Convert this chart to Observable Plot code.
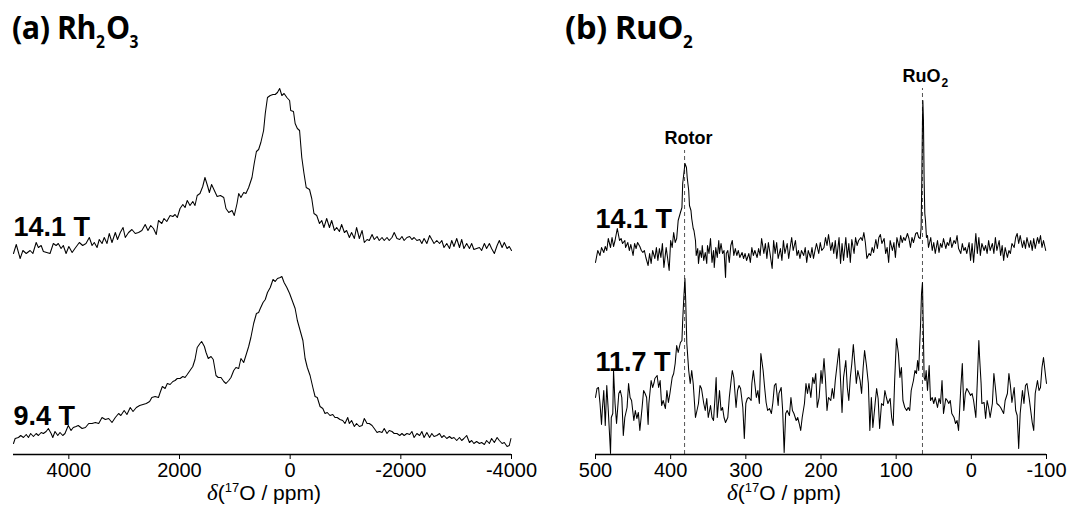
<!DOCTYPE html>
<html><head><meta charset="utf-8">
<script src="https://cdn.jsdelivr.net/npm/d3@7"></script>
<script src="https://cdn.jsdelivr.net/npm/@observablehq/plot@0.6"></script>
<style>
html,body{margin:0;padding:0;background:#fff;}
#wrap{position:relative;width:1070px;height:505px;overflow:hidden;font-family:"Liberation Sans",Arial,sans-serif;color:#000;}
.panel{position:absolute;top:0;}
.title{position:absolute;font-family:"Open Sans",sans-serif;font-weight:700;font-size:33px;line-height:33px;letter-spacing:-0.5px;white-space:nowrap;transform-origin:0 0;}
.title sub{font-size:17px;vertical-align:-9px;line-height:0;letter-spacing:0;margin:0 1px 0 0;}
.xlabel{position:absolute;font-size:21px;line-height:21px;white-space:nowrap;transform:translateX(-50%);}
.xlabel sup{font-size:13px;vertical-align:8px;line-height:0;}
.xlabel .d{font-family:"Liberation Serif",serif;font-style:italic;font-size:23px;}
</style></head>
<body><div id="wrap">
<div class="panel" id="pa" style="left:0;width:540px;"></div>
<div class="panel" id="pb" style="left:540px;width:530px;"></div>
<div class="title" style="left:12px;top:10px;transform:scaleX(0.92);">(a) Rh<sub>2</sub>O<sub>3</sub></div>
<div class="title" style="left:565px;top:10px;">(b) RuO<sub>2</sub></div>
<div class="xlabel" style="left:264px;top:482px;"><span class="d">δ</span>(<sup>17</sup>O / ppm)</div>
<div class="xlabel" style="left:784px;top:482px;"><span class="d">δ</span>(<sup>17</sup>O / ppm)</div>
</div>
<script>
// ---------- (a) Rh2O3 ----------
const rhTicks = [4000, 2000, 0, -2000, -4000];
const rhPpm141 = [5000,4950,4910,4880,4830,4770,4700,4650,4590,4550,
4500,4460,4400,4340,4280,4230,4190,4140,4100,4050,
4000,3940,3890,3810,3750,3690,3630,3580,3540,3490,
3450,3400,3360,3310,3270,3220,3160,3120,3070,3020,
2980,2920,2860,2800,2740,2680,2620,2570,2520,2470,
2420,2380,2320,2280,2230,2170,2120,2080,2040,1990,
1940,1900,1860,1810,1760,1720,1680,1630,1580,1540,
1490,1460,1420,1370,1320,1260,1200,1160,1110,1050,
1010,960,930,890,840,800,750,690,650,610,
570,530,480,450,410,360,310,270,230,190,
150,110,60,10,-10,-60,-90,-130,-170,-210,
-250,-290,-350,-390,-430,-480,-530,-570,-610,-660,
-710,-750,-800,-840,-890,-930,-980,-1020,-1070,-1110,
-1160,-1200,-1250,-1300,-1340,-1390,-1430,-1480,-1520,-1570,
-1610,-1660,-1700,-1750,-1790,-1840,-1880,-1930,-1980,-2020,
-2060,-2110,-2160,-2200,-2240,-2290,-2340,-2380,-2420,-2470,
-2520,-2560,-2600,-2650,-2700,-2740,-2780,-2830,-2880,-2920,
-2960,-3010,-3060,-3100,-3140,-3190,-3240,-3280,-3320,-3370,
-3420,-3460,-3510,-3550,-3600,-3640,-3690,-3740,-3780,-3830,
-3870,-3920,-3960,-4000];
const rh141 = [201,210,202,196,204,201,204,201,212,207,
209,203,202,201,211,209,211,206,209,201,
208,202,206,212,209,211,217,209,212,207,
215,211,217,211,221,212,222,215,222,227,
217,222,225,221,222,224,230,224,229,226,
220,234,231,236,233,239,238,240,237,246,
250,247,254,249,253,249,259,261,268,277,
268,262,270,264,258,259,257,246,242,244,
239,251,261,257,262,261,267,277,291,303,
305,312,324,341,357,359,360,360,362,366,
359,361,357,354,344,343,331,326,324,297,
281,267,265,256,241,239,231,234,227,236,
227,234,224,227,223,230,222,224,217,222,
216,227,216,224,212,215,214,220,215,218,
214,217,214,217,214,217,222,216,215,218,
214,217,218,215,217,214,215,211,216,211,
219,215,211,214,211,214,207,211,206,214,
208,216,207,215,206,211,206,211,205,206,
207,204,211,206,211,206,201,209,214,207,
212,206,208,204];
const rhPpm94 = [5000,4970,4910,4870,4820,4770,4730,4690,4640,4590,
4550,4500,4460,4410,4370,4320,4290,4250,4200,4160,
4110,4070,4010,3960,3920,3870,3830,3760,3700,3640,
3580,3520,3460,3400,3340,3280,3220,3160,3100,3060,
3000,2950,2890,2840,2780,2720,2660,2600,2540,2500,
2440,2380,2350,2310,2260,2220,2170,2120,2080,2040,
1990,1940,1900,1860,1810,1760,1720,1680,1630,1600,
1550,1520,1480,1430,1390,1340,1300,1250,1200,1160,
1110,1070,1020,980,930,890,840,800,750,710,
660,610,570,540,490,450,410,360,310,270,
230,180,150,110,60,10,-30,-90,-130,-180,
-230,-270,-310,-360,-410,-450,-490,-540,-590,-630,
-670,-720,-770,-810,-850,-900,-950,-990,-1040,-1070,
-1110,-1160,-1200,-1250,-1300,-1340,-1390,-1430,-1480,-1520,
-1570,-1610,-1660,-1700,-1750,-1790,-1840,-1880,-1930,-1980,
-2020,-2060,-2110,-2160,-2200,-2240,-2290,-2340,-2380,-2420,
-2470,-2520,-2560,-2600,-2650,-2700,-2740,-2780,-2830,-2880,
-2920,-2960,-3010,-3060,-3100,-3140,-3190,-3240,-3280,-3320,
-3370,-3420,-3460,-3510,-3550,-3600,-3640,-3690,-3740,-3780,
-3830,-3870,-3920,-3960,-3990];
const rh94 = [11,16,17,19,17,20,17,21,18,21,
19,22,21,23,26,21,17,23,19,22,
19,21,29,24,27,28,29,26,27,31,
31,32,31,37,35,36,32,37,41,39,
44,40,47,43,47,49,50,51,53,57,
58,57,62,68,66,71,70,73,74,76,
76,78,77,80,84,88,95,107,111,113,
108,102,96,98,95,79,77,77,73,71,
74,77,84,87,86,96,92,99,108,117,
131,141,142,146,152,155,162,167,175,173,
176,177,178,172,167,161,155,146,134,124,
114,96,87,79,67,58,57,48,46,41,
42,39,40,37,37,35,34,31,37,31,
34,28,31,28,29,36,31,31,29,26,
22,23,22,26,21,24,23,21,21,19,
21,19,21,20,23,17,21,19,23,17,
22,17,21,18,19,21,17,19,16,18,
16,17,14,17,14,16,19,12,14,11,
13,11,12,10,14,11,16,12,17,14,
11,12,8,9,16];

// ---------- (b) RuO2 ----------
const ruTicks = [500, 400, 300, 200, 100, 0, -100];
const ruRotor = 381.5;
const ruPeak = 65;
const ruPpm141 = [500,497,494,492,489,487,485,483,480,478,
476,474,471,468,466,464,461,460,457,455,
453,450,448,446,444,441,439,437,435,433,
430,428,426,424,421,419,417,415,413,411,
409,406,404,402,400,398,396,394,392,390,
387,385,384,382,381,379,378,376,375,373,
372,370,369,367,366,364,363,361,359,358,
356,354,352,351,349,347,345,343,342,340,
338,336,335,333,331,329,327,326,324,322,
320,318,316,314,312,310,308,305,303,301,
299,296,294,292,290,288,285,283,281,279,
276,274,272,270,268,265,263,261,259,257,
254,252,250,248,245,243,241,239,237,234,
232,230,228,226,223,221,219,217,214,212,
210,208,206,203,201,199,
196,194,192,190,187,185,183,181,179,176,
174,172,170,167,165,163,161,159,156,154,
152,150,147,145,143,141,139,136,134,132,
130,127,125,123,121,119,116,114,112,110,
108,105,103,101,99,96,94,92,90,88,
85,83,81,79,77,74,72,70,68,66.8,
65.9,65,64.5,63.7,62.8,61.9,61,59.7,58.3,57,
54,52,50,48,45,43,41,39,37,34,
32,30,28,26,23,21,19,17,14,12,
10,8,6,3,1,-1,-3,-6,-8,-10,
-12,-14,-17,-19,-21,-23,-25,-28,-30,-32,
-34,-37,-39,-41,-43,-45,-48,-50,-52,-54,
-57,-59,-61,-63,-65,-68,-70,-72,-74,-77,
-79,-81,-83,-85,-88,-90,-92,-94,-96,-99];
const ru141 = [192,204,199,207,202,208,204,216,207,217,
208,214,226,214,216,211,214,207,212,204,
210,199,211,206,212,208,204,202,204,197,
189,201,191,204,196,207,194,206,197,211,
187,207,196,184,214,207,222,212,216,234,
242,247,271,284,291,287,277,264,249,244,
236,226,224,214,199,206,191,204,197,209,
194,202,191,209,201,216,192,204,187,207,
197,214,201,211,201,204,177,201,204,192,
209,214,199,206,199,204,197,202,196,201,
194,201,192,207,199,204,197,206,199,216,
201,211,196,212,202,186,214,201,212,196,
206,194,214,201,211,196,207,217,204,214,
199,204,196,204,199,207,192,204,197,207,
196,204,211,201,212,204,
207,217,209,220,204,212,201,214,196,217,
191,211,194,217,197,211,192,215,201,217,
209,214,217,214,222,212,196,201,199,207,
202,215,206,217,220,211,216,201,207,192,
214,204,212,197,217,207,219,212,217,214,
221,216,207,217,212,221,222,217,216,227,
274,334,354,334,274,241,234,217,219,207,
217,204,212,201,214,202,211,207,216,206,
212,209,217,207,214,211,219,206,201,211,
204,207,201,212,194,211,192,221,201,217,
199,211,204,209,201,214,204,211,201,217,
204,214,199,209,194,207,197,204,201,211,
207,217,221,211,219,207,214,206,217,207,
214,204,216,206,217,211,219,207,214,204];
const ruPpm117 = [500,498,496,494,492,491,489,487,485,483,
480,479,477,476,474,472,469,467,465,463,
461,458,456,454,452,449,447,445,443,441,
438,436,434,432,430,429,426,424,422,421,
418,416,414,412,410,407,405,403,401,398,
396,394,392,390,387,385,384,382.5,381,380,
378.5,376,374,372,370,367,365,363,361,359,
356,354,352,350,347,345,343,341,339.5,338,
335,333,331,329,327,324,322,320,318,316,
313,311,309,307,304,302,300,298,296,293,
292,290,288.5,286,284,282,280,277,275,273,
271,268.5,266,264,262,260,257,256,253,251,
249,247,245,242,240,238,236,233,231,229,
227,225,222,220,218,216,213.5,211,209,207,
205,202.5,200,
198.5,196,194,192,190,187,185,183,181,179,
176,174,172,170,167,165,163,161,159,157,
155,153,151,148,146,144,142,139.5,137,135,
133,131,128,126,124,122,119.5,117,115,113,
111,108,106,104,102,99.6,97,95,93,91,
88.5,86,84,82,80,77,75,73,71.5,70,
69,67.5,66.3,65,64.1,62.8,61.4,60.1,58.3,56.1,
54.3,52.1,50,48,45,43,41,39,37,34,
32,30,28,26,23,21,19,17,14,12,
10,8,6,3,1,-1,-3,-6,-8,-10,
-11,-13,-14,-17,-19,-21,-23,-25,-28,-30,
-32,-34,-37,-39,-41,-43,-45,-48,-50,-52,
-54,-57,-59,-61,-63,-65,-68,-70,-72,-74,
-77,-79,-81,-83,-85,-88,-90,-92,-94,-96,
-99,-100];
const ru117 = [57,66,67,51,30,44,64,29,69,44,
1,37,41,84,51,31,61,64,57,19,
37,47,71,57,54,34,44,36,42,24,
47,64,61,57,30,51,74,67,72,76,
79,67,74,49,54,46,64,52,61,77,
81,91,109,102,112,114,134,157,176,154,
111,84,71,84,71,37,44,51,69,66,
51,44,56,37,49,37,34,57,77,37,
64,44,47,37,32,37,57,71,84,77,
47,64,69,66,47,16,51,56,57,54,
71,84,74,57,64,51,101,84,67,52,
44,46,41,52,69,71,49,61,67,44,
2,41,44,39,57,44,41,34,37,31,
24,37,51,71,61,71,57,77,71,81,
47,57,84,
71,96,74,44,57,54,66,56,74,87,
106,74,42,77,94,67,54,77,91,110,
91,71,84,74,61,86,104,89,71,24,
57,27,51,66,56,26,51,49,64,57,
51,56,37,29,74,116,101,77,87,54,
47,44,47,44,64,74,84,81,94,84,
104,131,161,172,134,77,74,84,64,89,
54,57,51,57,47,56,51,74,41,56,
54,51,54,41,37,31,34,24,67,91,
44,61,66,62,59,61,54,37,74,114,
97,71,51,52,36,54,47,37,51,81,
67,51,49,47,44,41,54,61,81,69,
52,67,44,39,6,41,64,51,69,71,
56,44,32,24,61,74,64,67,87,97,
77,71];

const rows = (ppm, v) => ppm.map((p, i) => ({ppm: p, v: v[i]})).filter(d => d.v !== undefined);

const common = {
  height: 505, marginTop: 54, marginBottom: 51,
  y: {domain: [0, 400], axis: null},
  style: {fontFamily: "Liberation Sans, Arial, sans-serif", fontSize: "20px", color: "#000", background: "transparent", overflow: "visible"}
};
const lineOpts = {x: "ppm", y: "v", stroke: "#000", strokeWidth: 1.05, curve: "linear"};
const lbl = {text: d => d, textAnchor: "start", lineAnchor: "bottom", fontSize: 27, fontWeight: "bold", fill: "#000"};

const plotA = Plot.plot({
  ...common,
  width: 540, marginLeft: 13, marginRight: 29,
  x: {domain: [5000, -4000], ticks: rhTicks, tickSize: 5, tickPadding: 3, tickFormat: d => String(d), label: null},
  marks: [
    Plot.ruleY([0], {stroke: "#000", strokeWidth: 1.5}),
    Plot.line(rows(rhPpm141, rh141), lineOpts),
    Plot.line(rows(rhPpm94, rh94), lineOpts),
    Plot.text(["14.1 T"], {...lbl, x: 5000, y: 219}),
    Plot.text(["9.4 T"], {...lbl, x: 5000, y: 30})
  ]
});
document.getElementById("pa").appendChild(plotA);

const plotB = Plot.plot({
  ...common,
  width: 530, marginLeft: 55, marginRight: 24,
  x: {domain: [500, -100], ticks: ruTicks, tickSize: 5, tickPadding: 3, tickFormat: d => String(d), label: null},
  marks: [
    Plot.ruleX([ruRotor], {y1: 0, y2: 304, stroke: "#555", strokeWidth: 1, strokeDasharray: "4,3"}),
    Plot.ruleX([ruPeak], {y1: 0, y2: 366, stroke: "#555", strokeWidth: 1, strokeDasharray: "4,3"}),
    Plot.ruleY([0], {stroke: "#000", strokeWidth: 1.5}),
    Plot.line(rows(ruPpm141, ru141), lineOpts),
    Plot.line(rows(ruPpm117, ru117), lineOpts),
    Plot.text(["14.1 T"], {...lbl, x: 500, y: 227}),
    Plot.text(["11.7 T"], {...lbl, x: 500, y: 84}),
    Plot.text(["Rotor"], {x: ruRotor, y: 311, text: d => d, textAnchor: "middle", lineAnchor: "bottom", dx: 4, fontSize: 18, fontWeight: "bold", fill: "#000"}),
    Plot.text(["RuO"], {x: ruPeak, y: 373, text: d => d, textAnchor: "middle", lineAnchor: "bottom", dx: -1, fontSize: 18, fontWeight: "bold", fill: "#000"}),
    Plot.text(["2"], {x: ruPeak, y: 368, text: d => d, textAnchor: "start", lineAnchor: "bottom", dx: 19, fontSize: 12, fontWeight: "bold", fill: "#000"})
  ]
});
document.getElementById("pb").appendChild(plotB);
</script>
</body></html>
